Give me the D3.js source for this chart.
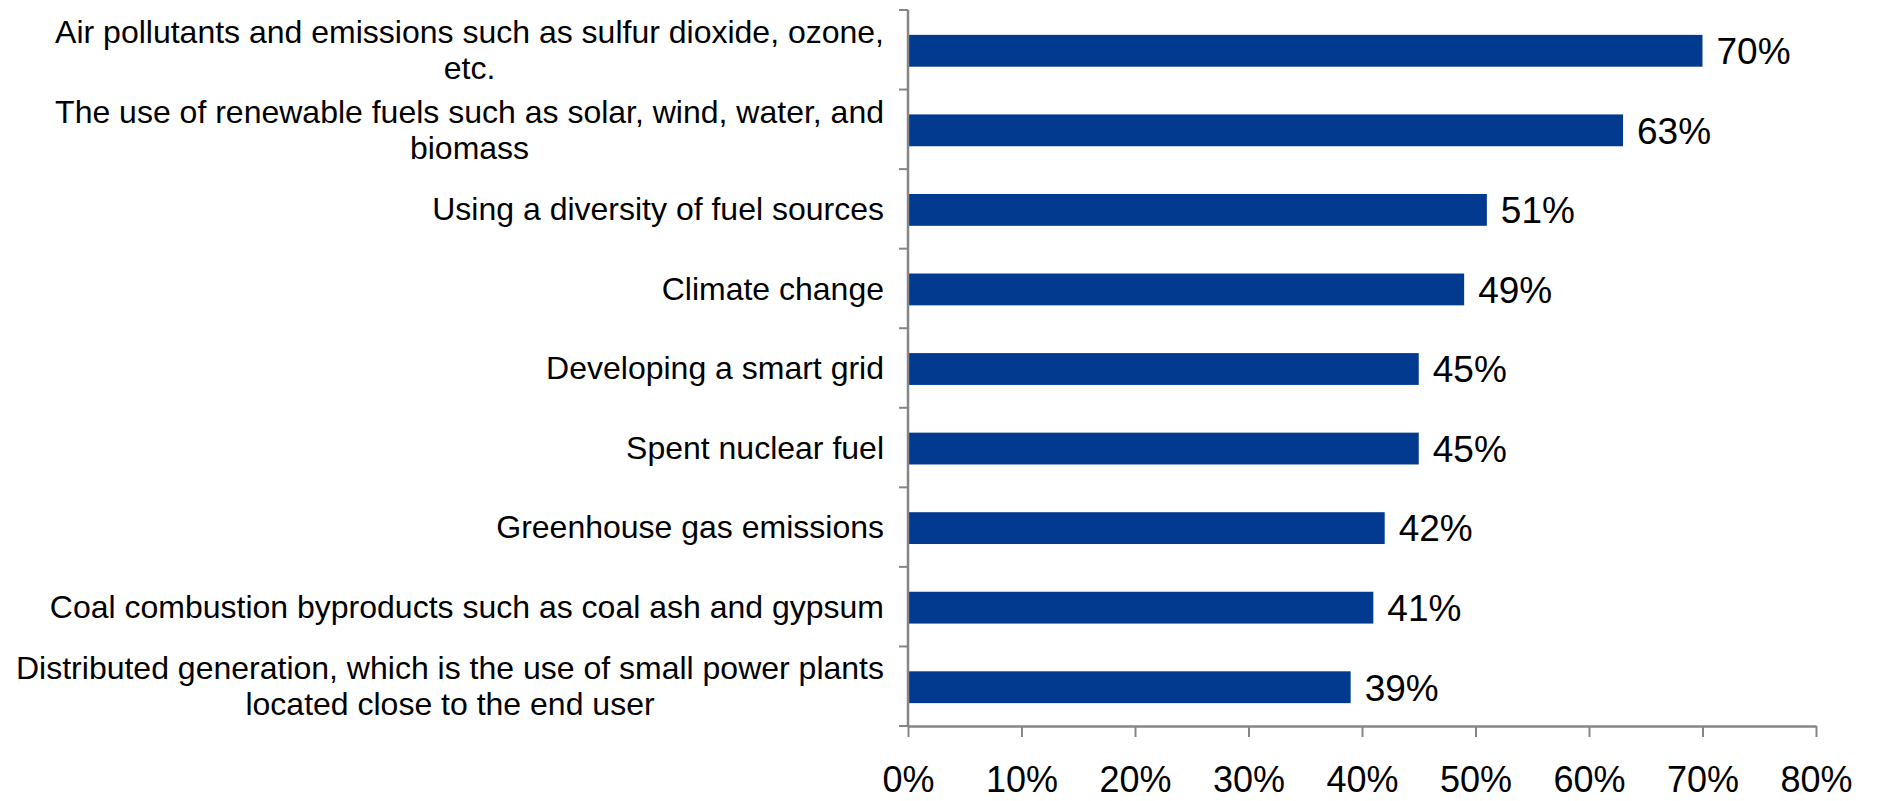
<!DOCTYPE html>
<html>
<head>
<meta charset="utf-8">
<script src="https://cdn.jsdelivr.net/npm/d3@7/dist/d3.min.js"></script>
<style>
  html, body { margin: 0; padding: 0; background: #ffffff; }
  svg { display: block; font-family: "Liberation Sans", Arial, sans-serif; }
</style>
</head>
<body>
<svg id="chart" width="1877" height="801"></svg>
<script>
const categories = [
  ["Air pollutants and emissions such as sulfur dioxide, ozone,", "etc."],
  ["The use of renewable fuels such as solar, wind, water, and", "biomass"],
  ["Using a diversity of fuel sources"],
  ["Climate change"],
  ["Developing a smart grid"],
  ["Spent nuclear fuel"],
  ["Greenhouse gas emissions"],
  ["Coal combustion byproducts such as coal ash and gypsum"],
  ["Distributed generation, which is the use of small power plants", "located close to the end user"]
];
const values = [70, 63, 51, 49, 45, 45, 42, 41, 39];
const xTicks = [0, 10, 20, 30, 40, 50, 60, 70, 80];

(function () {
const svg = d3.select("#chart");
const plotLeft = 908, plotRight = 1816, plotTop = 10, plotBottom = 726;
const axisColor = "#868686";
const barColor = "#023A8F";

const x = d3.scaleLinear().domain([0, 80]).range([plotLeft, plotRight]);
const y = d3.scaleBand().domain(d3.range(categories.length)).range([plotTop, plotBottom]).paddingInner(0.6).paddingOuter(0.3);
const yOuter = d3.scaleBand().domain(d3.range(categories.length)).range([plotTop, plotBottom]);

// bars
svg.append("g").selectAll("rect").data(values).join("rect")
  .attr("x", x(0))
  .attr("y", (d, i) => y(i) + 1)
  .attr("width", d => x(d) - x(0))
  .attr("height", y.bandwidth())
  .attr("fill", barColor);

// value labels
svg.append("g").selectAll("text").data(values).join("text")
  .attr("x", d => x(d) + 14)
  .attr("y", (d, i) => y(i) + 1 + y.bandwidth() / 2)
  .attr("dy", "0.36em")
  .attr("font-size", 37)
  .attr("fill", "#000")
  .text(d => d + "%");

// y axis line + ticks at band boundaries
const yBounds = d3.range(categories.length + 1).map(i => plotTop + i * yOuter.step());
const gy = svg.append("g");
gy.append("line").attr("x1", plotLeft).attr("x2", plotLeft).attr("y1", plotTop).attr("y2", plotBottom)
  .attr("stroke", axisColor).attr("stroke-width", 2.5);
gy.selectAll("line.t").data(yBounds).join("line").attr("class", "t")
  .attr("x1", plotLeft - 9).attr("x2", plotLeft).attr("y1", d => d).attr("y2", d => d)
  .attr("stroke", axisColor).attr("stroke-width", 2);

// x axis
const xAxis = d3.axisBottom(x).tickValues(xTicks).tickFormat(d => d + "%").tickSize(11).tickSizeOuter(0).tickPadding(29);
const gx = svg.append("g").attr("transform", `translate(0,${plotBottom})`).call(xAxis);
gx.select(".domain").attr("stroke", axisColor).attr("stroke-width", 2.5);
gx.selectAll(".tick line").attr("stroke", axisColor).attr("stroke-width", 2);
gx.selectAll(".tick text").attr("font-size", 36).attr("fill", "#000")
  .attr("font-family", "Liberation Sans, Arial, sans-serif");

// category labels (centered block, right edge near axis)
const labelRight = 884;
const lineH = 36;
const gl = svg.append("g");
categories.forEach((lines, i) => {
  const cy = yOuter(i) + yOuter.bandwidth() / 2;
  const t = gl.append("text").attr("font-size", 32).attr("fill", "#000").attr("text-anchor", "middle");
  const spans = lines.map((ln, k) => t.append("tspan").text(ln)
    .attr("y", cy + (k - (lines.length - 1) / 2) * lineH).attr("dy", "0.35em"));
  const maxW = d3.max(spans, s => s.node().getComputedTextLength());
  spans.forEach(s => s.attr("x", labelRight - maxW / 2));
});
})();
</script>
</body>
</html>
